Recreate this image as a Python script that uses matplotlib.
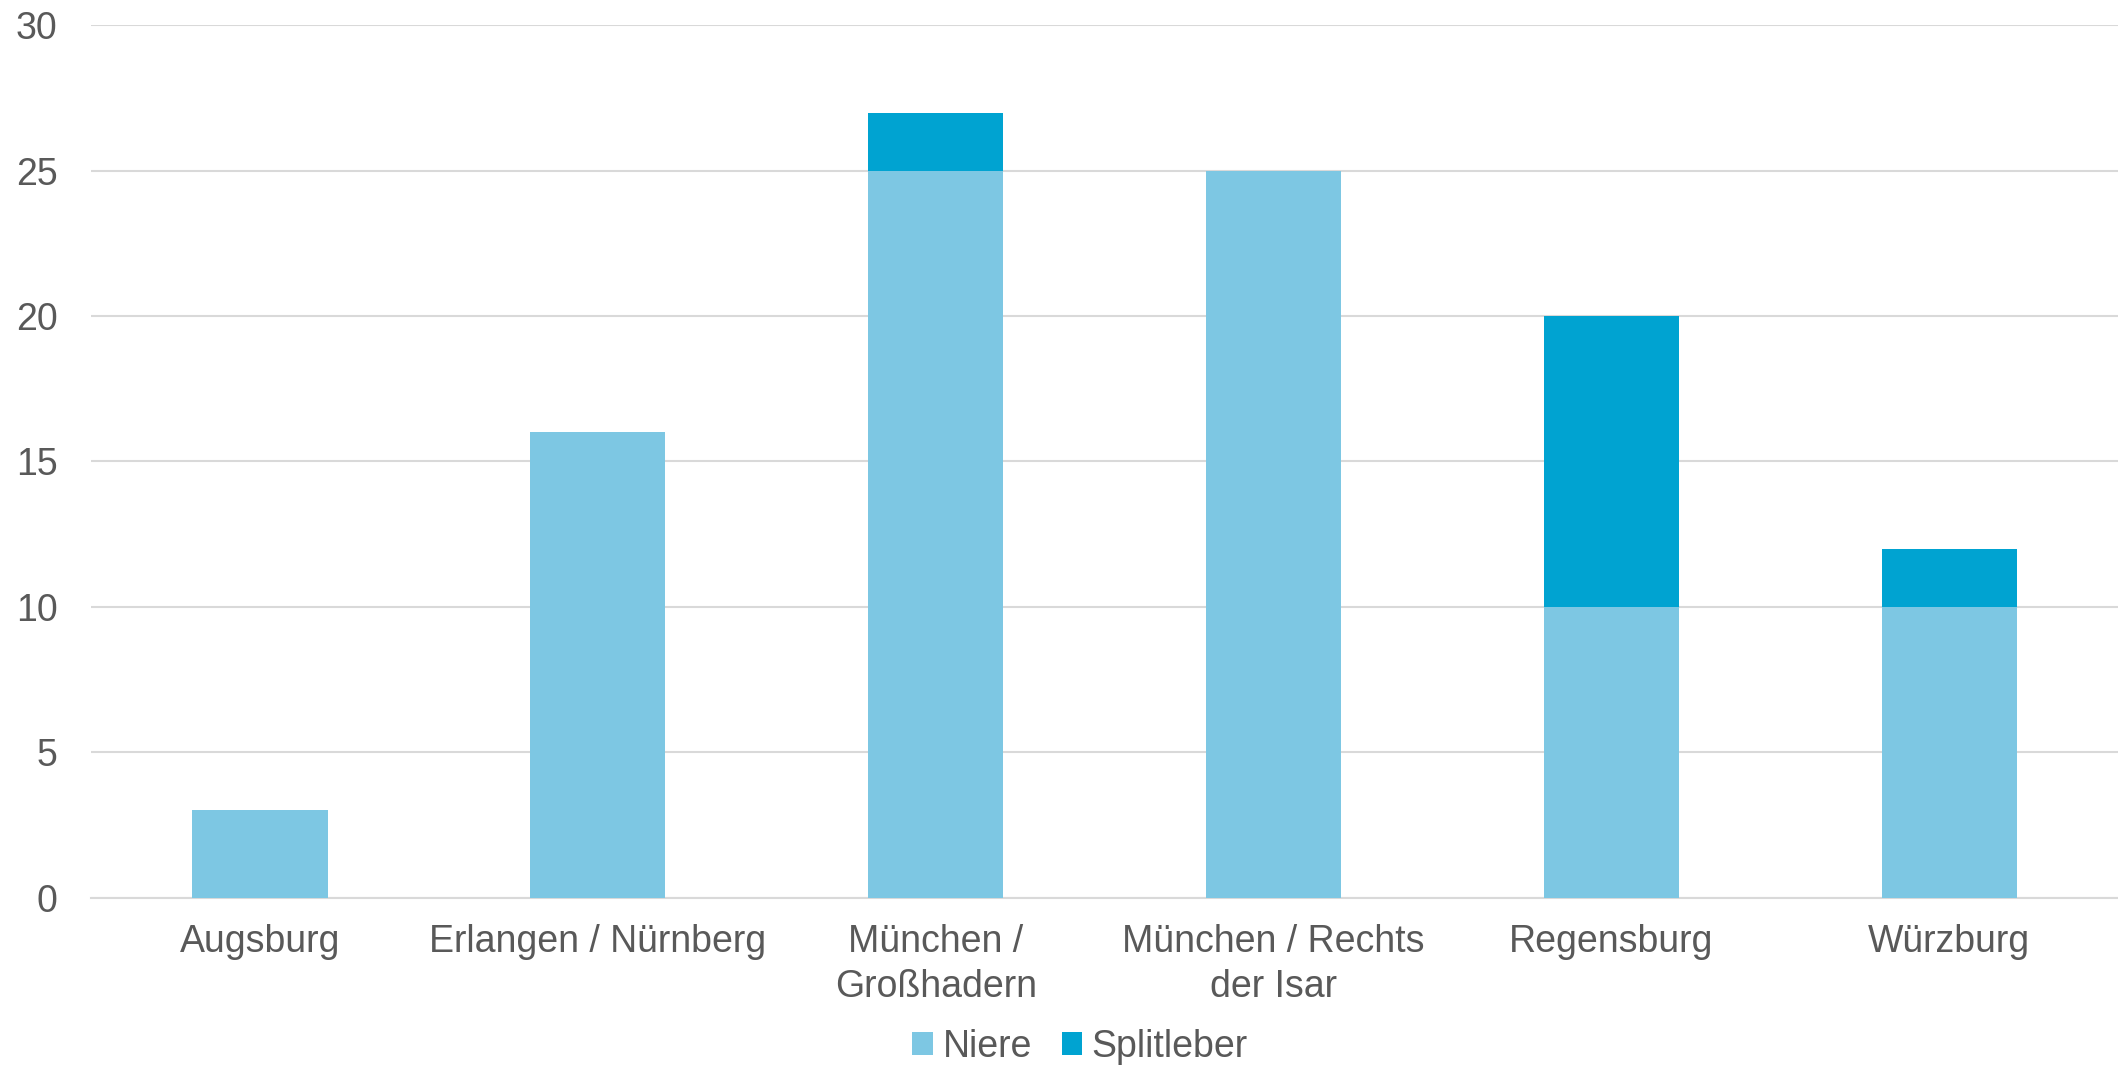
import matplotlib.pyplot as plt
import numpy as np

plt.rcParams['font.family'] = ['Liberation Sans', 'DejaVu Sans']

categories = ["Augsburg", "Erlangen / Nürnberg", "München /\nGroßhadern",
              "München / Rechts\nder Isar", "Regensburg", "Würzburg"]
niere = [3, 16, 25, 25, 10, 10]
splitleber = [0, 0, 2, 0, 10, 2]
yticks = [0, 5, 10, 15, 20, 25, 30]

c_niere = "#7DC7E3"
c_split = "#00A3D1"
txt = "#595959"

fig = plt.figure(figsize=(21.18, 10.69), dpi=100)
ax = fig.add_axes([0.043, 0.1603, 0.957, 0.816])

x = np.arange(len(categories))
ax.bar(x, niere, width=0.4, color=c_niere, label="Niere", zorder=3)
ax.bar(x, splitleber, width=0.4, bottom=niere, color=c_split, label="Splitleber", zorder=3)

ax.set_xlim(-0.5, len(categories) - 0.5)
ax.set_ylim(0, 30)
ax.set_yticks(yticks)
ax.set_xticks(x)
ax.set_xticklabels(categories, linespacing=1.32)
ax.tick_params(axis='both', length=0, labelsize=27, colors=txt)
ax.tick_params(axis='x', pad=19)
ax.tick_params(axis='y', pad=24)
ax.grid(axis='y', color="#D9D9D9", linewidth=1.5, zorder=0)
for s in ['top', 'right', 'left']:
    ax.spines[s].set_visible(False)
ax.spines['bottom'].set_color("#D9D9D9")
ax.spines['bottom'].set_linewidth(1.5)

fig.legend(loc='center', bbox_to_anchor=(0.51, 0.021), ncol=2, frameon=False,
           fontsize=27, labelcolor=txt, handlelength=0.55, handleheight=0.55,
           handletextpad=0.25, columnspacing=0.8)

fig.savefig("out.png", dpi=100)
